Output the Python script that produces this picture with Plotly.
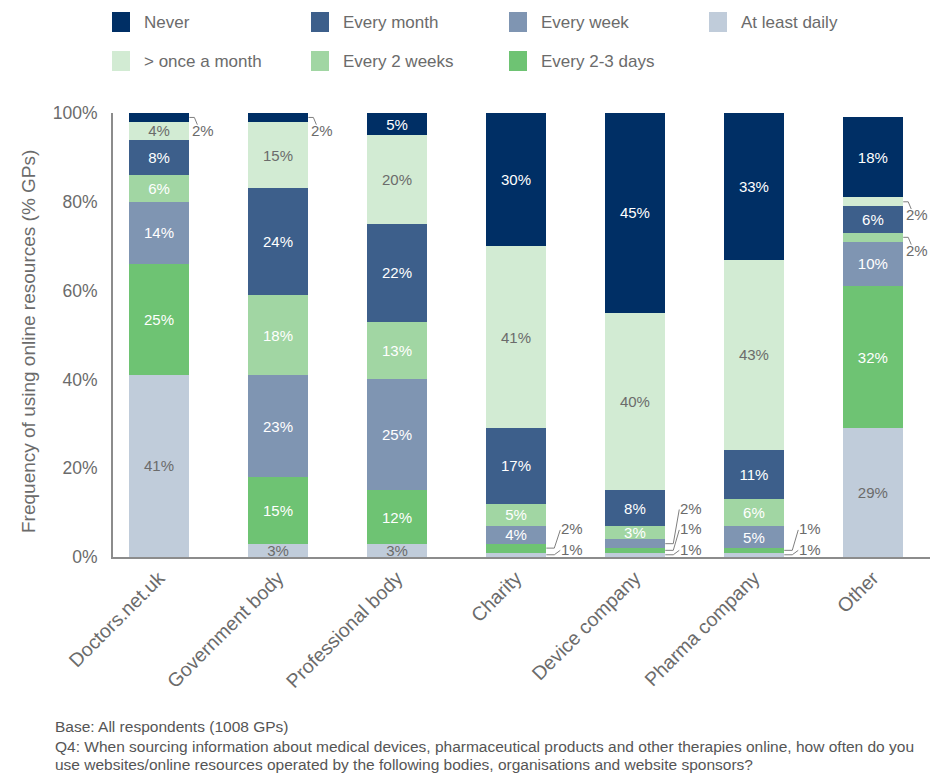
import plotly.graph_objects as go

# ---- data -------------------------------------------------------------
categories = ["Doctors.net.uk", "Government body", "Professional body",
              "Charity", "Device company", "Pharma company", "Other"]

at_least_daily = [41, 3, 3, 1, 1, 1, 29]
every_2_3_days = [25, 15, 12, 2, 1, 1, 32]
every_week = [14, 23, 25, 4, 2, 5, 10]
every_2_weeks = [6, 18, 13, 5, 3, 6, 2]
every_month = [8, 24, 22, 17, 8, 11, 6]
more_than_once_a_month = [4, 15, 20, 41, 40, 43, 2]
never = [2, 2, 5, 30, 45, 33, 18]

series_names = ["At least daily", "Every 2-3 days", "Every week", "Every 2 weeks",
                "Every month", "> once a month", "Never"]
series_values = [at_least_daily, every_2_3_days, every_week, every_2_weeks,
                 every_month, more_than_once_a_month, never]

y_ticks = [0, 20, 40, 60, 80, 100]

# segments whose value is written beside the bar with a leader line:
# (category index, series name, side, stacking level of the label)
callouts = [
    (0, "Never", "top", 0),
    (1, "Never", "top", 0),
    (3, "At least daily", "bottom", 0),
    (3, "Every 2-3 days", "bottom", 1),
    (4, "At least daily", "bottom", 0),
    (4, "Every 2-3 days", "bottom", 1),
    (4, "Every week", "bottom", 2),
    (5, "At least daily", "bottom", 0),
    (5, "Every 2-3 days", "bottom", 1),
    (6, "> once a month", "top", 0),
    (6, "Every 2 weeks", "top", 0),
]

# ---- styling ----------------------------------------------------------
colors = {
    "Never": "#002F65",
    "Every month": "#3D5F8B",
    "Every week": "#7F95B2",
    "At least daily": "#C0CCDA",
    "> once a month": "#D2EBD3",
    "Every 2 weeks": "#A1D6A3",
    "Every 2-3 days": "#6EC373",
}
label_colors = {name: "#FFFFFF" for name in series_names}
label_colors["At least daily"] = "#6B6B6B"
label_colors["> once a month"] = "#6B6B6B"

legend_rows = [["Never", "Every month", "Every week", "At least daily"],
               ["> once a month", "Every 2 weeks", "Every 2-3 days"]]

FONT = "Liberation Sans, Arial, Helvetica, sans-serif"
GREY = "#6B6B6B"
W, H = 930, 773
L, R, T, B = 113, 930, 113, 557          # plot area in pixels
X_RANGE = [-0.387, 6.48]
Y_RANGE = [0, 100]
BAR_W = 0.51

px_per_x = (R - L) / (X_RANGE[1] - X_RANGE[0])
px_per_y = (B - T) / (Y_RANGE[1] - Y_RANGE[0])


def paper_x(px):
    return (px - L) / (R - L)


def paper_y(py):
    return (B - py) / (B - T)


callout_set = {(c, s) for c, s, _, _ in callouts}

fig = go.Figure()
for name, vals in zip(series_names, series_values):
    texts = ["" if (i, name) in callout_set else f"{v}%" for i, v in enumerate(vals)]
    fig.add_trace(go.Bar(
        name=name,
        x=list(range(len(categories))),
        y=vals,
        width=BAR_W,
        marker=dict(color=colors[name], line=dict(width=0)),
        text=texts,
        textposition="inside",
        insidetextanchor="middle",
        textangle=0,
        textfont=dict(family=FONT, size=15, color=label_colors[name]),
        showlegend=False,
        hoverinfo="skip",
    ))

# ---- leader lines and outside value labels ----------------------------
shapes = []
annotations = []
for cat, sname, side, level in callouts:
    idx = series_names.index(sname)
    base = sum(series_values[k][cat] for k in range(idx))
    val = series_values[idx][cat]
    mid = base + val / 2
    edge = cat + BAR_W / 2
    if side == "bottom":
        kink = edge + 8 / px_per_x
        end_x = edge + 14 / px_per_x
        label_x = end_x
        label_y = 1.8 + 4.6 * level
        end_y = label_y - 0.3
    else:
        kink = edge + 5 / px_per_x
        end_x = edge + 8 / px_per_x
        label_x = edge + 2 / px_per_x
        label_y = mid - 13 / px_per_y
        end_y = label_y + 1.3
    shapes.append(dict(
        type="path", xref="x", yref="y",
        path=f"M {edge},{mid} L {kink},{mid} L {end_x},{end_y}",
        line=dict(color="#7F7F7F", width=1),
    ))
    annotations.append(dict(
        x=label_x, y=label_y, xref="x", yref="y", xanchor="left", yanchor="middle",
        text=f"{val}%", showarrow=False, borderpad=0,
        font=dict(family=FONT, size=15, color=GREY),
    ))

# ---- legend (two rows of swatches) ------------------------------------
col_px = [112, 311, 509, 709]
row_py = [22, 61]
for r, row in enumerate(legend_rows):
    for c, name in enumerate(row):
        x0 = col_px[c]
        yc = row_py[r]
        shapes.append(dict(
            type="rect", xref="paper", yref="paper",
            x0=paper_x(x0), x1=paper_x(x0 + 18),
            y0=paper_y(yc + 10), y1=paper_y(yc - 10),
            fillcolor=colors[name], line=dict(width=0),
        ))
        annotations.append(dict(
            x=paper_x(x0 + 30), y=paper_y(yc), xref="paper", yref="paper",
            xanchor="left", yanchor="middle", showarrow=False,
            text=name, font=dict(family=FONT, size=17, color=GREY),
        ))

# ---- axis title and footnotes -----------------------------------------
annotations.append(dict(
    x=paper_x(28), y=paper_y(342), xref="paper", yref="paper",
    xanchor="center", yanchor="middle", showarrow=False, textangle=-90,
    text="Frequency of using online resources (% GPs)",
    font=dict(family=FONT, size=19, color=GREY),
))
footnotes = [
    (727, "Base: All respondents (1008 GPs)"),
    (746, "Q4: When sourcing information about medical devices, pharmaceutical products "
          "and other therapies online, how often do you"),
    (764, "use websites/online resources operated by the following bodies, "
          "organisations and website sponsors?"),
]
for py, txt in footnotes:
    annotations.append(dict(
        x=paper_x(53), y=paper_y(py), xref="paper", yref="paper",
        xanchor="left", yanchor="middle", showarrow=False, text=txt,
        font=dict(family=FONT, size=15.5, color="#555555"),
    ))

fig.update_layout(
    width=W, height=H,
    margin=dict(l=L, r=W - R, t=T, b=H - B, pad=0),
    barmode="stack",
    paper_bgcolor="white",
    plot_bgcolor="white",
    font=dict(family=FONT, color=GREY),
    uniformtext=dict(minsize=15, mode="show"),
    shapes=shapes,
    annotations=annotations,
    xaxis=dict(
        range=X_RANGE,
        tickmode="array",
        tickvals=list(range(len(categories))),
        ticktext=categories,
        tickangle=-45,
        tickfont=dict(family=FONT, size=19.5, color=GREY),
        showline=True, linecolor="#8C8C8C", linewidth=2,
        showgrid=False, zeroline=False, ticks="",
    ),
    yaxis=dict(
        range=Y_RANGE,
        tickmode="array",
        tickvals=y_ticks,
        ticktext=[f"{t}%" for t in y_ticks],
        tickfont=dict(family=FONT, size=17.5, color=GREY),
        showline=True, linecolor="#8C8C8C", linewidth=2,
        showgrid=False, zeroline=False, ticks="",
        ticklabelstandoff=10,
    ),
)

fig.write_html("out.html")
